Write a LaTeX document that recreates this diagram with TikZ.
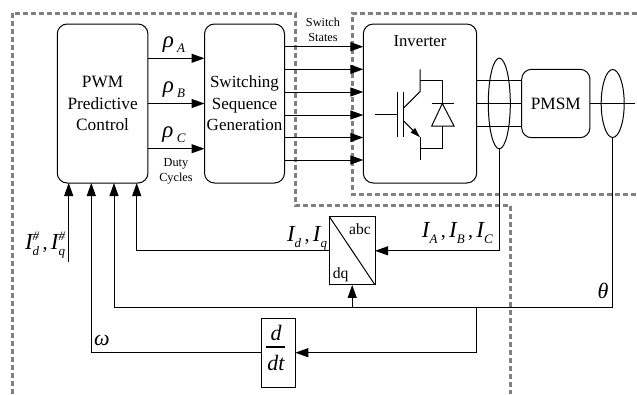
\documentclass[tikz,border=0pt]{standalone}
\usepackage{fontspec}
\setmainfont{Liberation Serif}
\usetikzlibrary{arrows.meta,shapes.geometric}
\newcommand{\fsz}[1]{\fontsize{#1}{#1}\selectfont}
\newcommand{\lowsub}[1]{\raisebox{-5pt}{\fsz{13}\itshape #1}}
\newcommand{\cursym}[3]{{\fsz{23}\itshape #1}\rlap{\raisebox{9pt}{\fsz{13}\itshape #2}}\raisebox{-6pt}{\fsz{13}\itshape #3}}
\tikzset{
    every node/.style={inner sep=0pt,outer sep=0pt},
    block/.style={draw,rounded corners=10pt,align=center,font=\fsz{17.3},execute at begin node={\baselineskip=21.5pt}},
    bigtext/.style={font=\fsz{20}},
    smalltext/.style={align=center,font=\fsz{12.3},execute at begin node={\baselineskip=15pt}},
    wire/.style={line width=1pt},
    arrowwire/.style={wire,-{Triangle[length=13pt,width=9pt]}},
    boundary/.style={draw=black!50,line width=3pt,dash pattern=on 5pt off 3pt}
}
\begin{document}
\begin{tikzpicture}[x=1pt,y=-1pt,line width=1pt]
    \useasboundingbox (0,0) rectangle (637,394);
    % dashed regions
    \draw[boundary] (12,394) -- (12,13) -- (295,13) -- (295,205) -- (510,205) -- (510,394);
    \draw[boundary] (637,13) -- (352.5,13) -- (352.5,194.5) -- (637,194.5);
    % blocks
    \node[block,minimum width=90.7pt,minimum height=159pt] (pwm) at (102.6,103.5) {PWM\\Predictive\\Control};
    \node[block,minimum width=80pt,minimum height=159pt,font=\fsz{17}] (seq) at (244.5,103.5) {Switching\\Sequence\\Generation};
    \node[block,minimum width=113.4pt,minimum height=159pt] (inv) at (420,103.5) {};
    \node[font=\fsz{16.7}] (invlabel) at (420,41.5) {Inverter};
    \node[block,minimum width=68.3pt,minimum height=68.4pt] (pmsm) at (555.8,103.5) {PMSM};
    \node[draw,wire,ellipse,minimum width=22pt,minimum height=90.7pt] (loopI) at (499.3,103.5) {};
    \node[draw,wire,ellipse,minimum width=23pt,minimum height=68pt] (loopT) at (612.7,103.5) {};
    \node[draw,minimum width=45.7pt,minimum height=68.3pt] (park) at (352.2,250.8) {};
    \node[draw,minimum width=34pt,minimum height=68.7pt] (ddt) at (278.3,352.7) {};
    % duty cycles
    \foreach \nm/\yy in {A/58.3,B/103.5,C/148.7} {
        \coordinate (duty\nm) at (pwm.east |- 0,\yy);
        \draw[arrowwire] (duty\nm) -- (duty\nm -| seq.west);
    }
    % switch states
    \foreach \yy in {46.7,69.3,92,115,137.5,160} {
        \coordinate (state) at (seq.east |- 0,\yy);
        \draw[arrowwire] (state) -- (state -| inv.west);
    }
    % three phases and rotor shaft
    \foreach \yy in {80,103.5,126} {
        \coordinate (phase) at (inv.east |- 0,\yy);
        \draw[wire] (phase) -- (phase -| pmsm.west);
    }
    \coordinate (shaft) at (635,103.5);
    \draw[wire] (pmsm.east) -- (shaft);
    % feedback
    \coordinate (ref) at (68.7,261.7);
    \coordinate (thetaj) at (476.7,307.3);
    \draw[arrowwire] (ref) -- (ref |- pwm.south);
    \draw[arrowwire] (loopI.south) |- (park.east);
    \draw[arrowwire] (park.west) -| (136.7,183);
    \draw[arrowwire] (loopT.south) |- (114,307.3) -- (114,183);
    \draw[arrowwire] (park.south |- thetaj) -- (park.south);
    \draw[arrowwire] (thetaj) |- (ddt.east);
    \draw[arrowwire] (ddt.west) -| (91.3,183);
    \draw (park.north west) -- (park.south east);
    % igbt and diode
    \coordinate (gate) at (375,114.7);
    \draw[wire] (gate) -- (397.3,114.7);
    \draw[wire] (397.3,92.3) -- (397.3,137.3);
    \draw[wire] (403.3,92.3) -- (403.3,137.3);
    \draw[wire] (420,69.3) -- (420,91.7) -- (403.3,108.3);
    \draw[wire,-{Triangle[length=10pt,width=6pt]}] (403.3,120.7) -- (420,137.3);
    \draw[wire] (420,137.3) -- (420,160);
    \draw[wire] (420,80) -- (442.3,80) -- (442.3,103.5);
    \draw[wire] (431.7,103.5) -- (454,103.5);
    \draw[wire] (442.3,103.5) -- (431.7,126) -- (454,126) -- cycle;
    \draw[wire] (442.3,126) -- (442.3,148.3) -- (420,148.3);
    % labels
    \node[bigtext] (rhoA) at (174,45) {{\fsz{23}\itshape ρ}\,\lowsub{A}};
    \node[bigtext] (rhoB) at (174,90) {{\fsz{23}\itshape ρ}\,\lowsub{B}};
    \node[bigtext] (rhoC) at (174,135) {{\fsz{23}\itshape ρ}\,\lowsub{C}};
    \node[smalltext] (dutylabel) at (176,171.5) {Duty\\Cycles};
    \node[smalltext] (statelabel) at (323,30) {Switch\\States};
    \node[bigtext,anchor=east] (reflabel) at (65,245) {\cursym{I}{\#}{d}\,,\,\cursym{I}{\#}{q}\hspace{2pt}};
    \node[bigtext,anchor=east] (dqlabel) at (327,238) {\cursym{I}{}{d}\,,\,\cursym{I}{}{q}};
    \node[bigtext,anchor=east] (abclabel) at (492.7,233) {\cursym{I}{}{A}\,,\,\cursym{I}{}{B}\,,\,\cursym{I}{}{C}};
    \node[font=\fsz{15.6}] (abctext) at (360,229) {abc};
    \node[font=\fsz{15.6}] (dqtext) at (340.7,275) {dq};
    \node[font=\fsz{22}] (omega) at (102,340.7) {\itshape ω};
    \node[font=\fsz{22}] (theta) at (603,290.7) {\itshape θ};
    \node[font=\fsz{22}] (ddtnum) at (276,333) {\itshape d};
    \node[font=\fsz{22}] (ddtden) at (276,363) {\itshape dt};
    \draw[line width=2pt] (266.3,346.7) -- (285,346.7);
\end{tikzpicture}
\end{document}
